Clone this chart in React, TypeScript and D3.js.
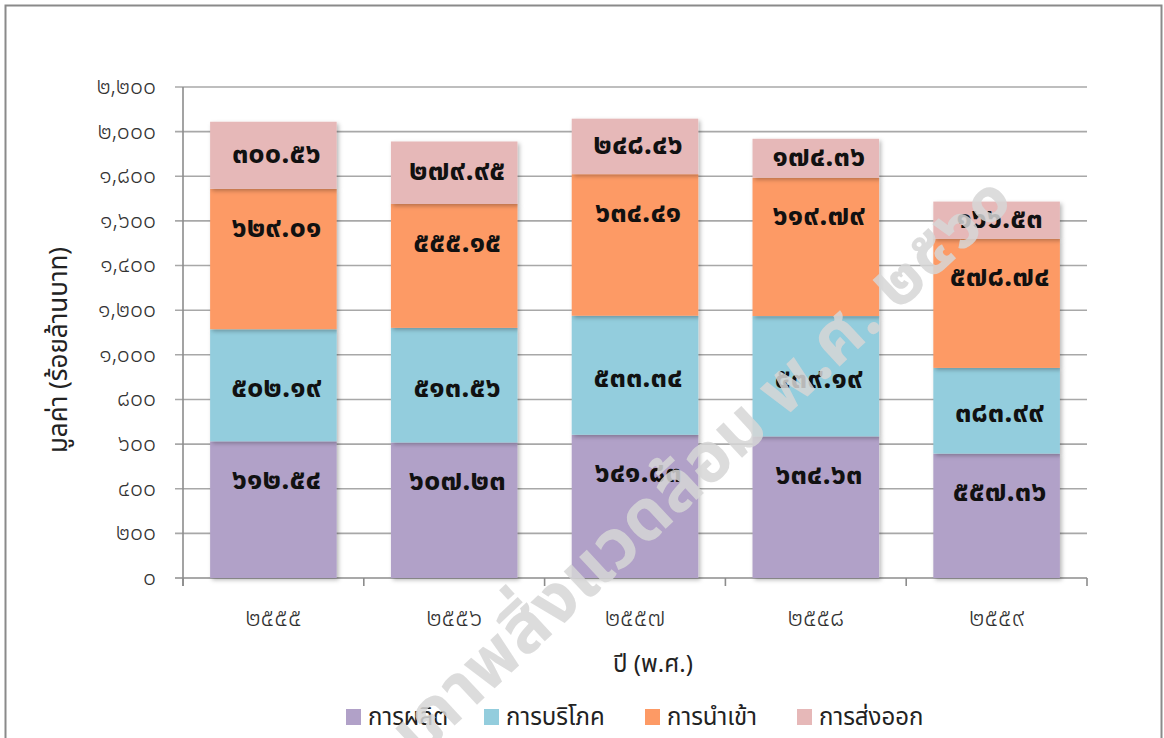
import React from "react";
import * as d3 from "d3";

// ปี พ.ศ.
const years = ["๒๕๕๕", "๒๕๕๖", "๒๕๕๗", "๒๕๕๘", "๒๕๕๙"];

// มูลค่า (ร้อยล้านบาท)
const production = [612.54, 607.23, 641.83, 634.63, 557.36];
const consumption = [502.19, 513.56, 533.34, 539.19, 383.99];
const imports = [629.01, 555.15, 634.41, 619.79, 578.74];
const exports = [300.56, 279.95, 248.46, 174.36, 166.53];

const seriesNames = ["การผลิต", "การบริโภค", "การนำเข้า", "การส่งออก"];
const seriesColors = ["#b1a1c8", "#93cddd", "#fd9a65", "#e6b8b8"];
const yTicks = [0, 200, 400, 600, 800, 1000, 1200, 1400, 1600, 1800, 2000, 2200];

const W = 1164;
const H = 738;
const M = { left: 183, right: 1087, top: 87, bottom: 578 };

const THAI_DIGITS = "๐๑๒๓๔๕๖๗๘๙";
const toThai = (s: string) => s.replace(/[0-9]/g, (c) => THAI_DIGITS[+c]);

const FONT = "'Noto Sans Thai', 'Noto Sans Thai Looped', 'Noto Sans', sans-serif";

export default function App() {
  const seriesValues = [production, consumption, imports, exports];
  const rows = years.map((y, i) => {
    const r: Record<string, number | string> = { year: y };
    seriesNames.forEach((n, k) => (r[n] = seriesValues[k][i]));
    return r;
  });
  const stacked = d3.stack<Record<string, number | string>>().keys(seriesNames)(rows as any);

  const x = d3.scaleBand().domain(years).range([M.left, M.right]).paddingInner(0.3).paddingOuter(0.15);
  const y = d3.scaleLinear().domain([0, 2200]).range([M.bottom, M.top]);
  const step = (M.right - M.left) / years.length;

  // label placement per series: centred, or pinned near the segment top
  const labelNearTop = [true, false, true, false];

  const fmtTick = d3.format(",");

  return (
    <div style={{ position: "fixed", left: 0, top: 0, width: W, height: H, background: "#fff" }}>
      <svg width={W} height={H} style={{ display: "block" }}>
        <defs>
          <filter id="barShadow" x="-10%" y="-10%" width="130%" height="130%">
            <feDropShadow dx="2" dy="2" stdDeviation="2" floodColor="#000" floodOpacity="0.28" />
          </filter>
        </defs>
        {/* chart frame */}
        <rect x={5.5} y={5.5} width={1156} height={760} fill="#fff" stroke="#8a8a8a" strokeWidth={2} />

        {/* gridlines and y ticks */}
        {yTicks.map((t) => (
          <g key={t}>
            <line x1={M.left - 8} x2={M.right} y1={y(t)} y2={y(t)} stroke={t === 0 ? "#8c8c8c" : "#a8a8a8"} strokeWidth={1.6} />
            <text x={156} y={y(t)} dy="0.3em" textAnchor="end" fontFamily={FONT} fontWeight={300} fontSize={23} fill="#333">
              {toThai(fmtTick(t))}
            </text>
          </g>
        ))}
        {/* y axis line */}
        <line x1={M.left} x2={M.left} y1={M.top} y2={M.bottom + 8} stroke="#8c8c8c" strokeWidth={1.6} />
        {/* x category ticks */}
        {d3.range(years.length + 1).map((i) => (
          <line key={i} x1={M.left + i * step} x2={M.left + i * step} y1={M.bottom} y2={M.bottom + 8} stroke="#8c8c8c" strokeWidth={1.6} />
        ))}

        {/* stacked bars */}
        {stacked.map((s, k) => (
          <g key={s.key} filter="url(#barShadow)">
            {s.map((d, i) => (
              <rect
                key={i}
                x={x(years[i])!}
                width={x.bandwidth()}
                y={y(d[1])}
                height={y(d[0]) - y(d[1])}
                fill={seriesColors[k]}
              />
            ))}
          </g>
        ))}

        {/* value labels */}
        {stacked.map((s, k) =>
          s.map((d, i) => {
            const top = y(d[1]);
            const bottom = y(d[0]);
            const cy = labelNearTop[k] ? top + 39 : (top + bottom) / 2 + (k === 3 ? -1 : 3);
            return (
              <text
                key={`${k}-${i}`}
                x={x(years[i])! + x.bandwidth() / 2 + 3}
                y={cy}
                dy="0.3em"
                textAnchor="middle"
                fontFamily={FONT}
                fontWeight="bold"
                fontSize={29}
                fill="#111"
              >
                {toThai((d[1] - d[0]).toFixed(2))}
              </text>
            );
          })
        )}

        {/* x tick labels */}
        {years.map((yr) => (
          <text key={yr} x={x(yr)! + x.bandwidth() / 2} y={618} dy="0.3em" textAnchor="middle" fontFamily={FONT} fontWeight={300} fontSize={25} fill="#333">
            {yr}
          </text>
        ))}

        {/* axis titles */}
        <text x={653} y={664} dy="0.35em" textAnchor="middle" fontFamily={FONT} fontSize={24} fill="#222">
          ปี (พ.ศ.)
        </text>
        <text transform="translate(58,350) rotate(-90)" dy="0.35em" textAnchor="middle" fontFamily={FONT} fontSize={26} fill="#222">
          มูลค่า (ร้อยล้านบาท)
        </text>

        {/* legend */}
        {[346, 484, 645, 797].map((lx, k) => (
          <g key={k} transform={`translate(${lx},709)`}>
            <rect x={0} y={0} width={15} height={16} fill={seriesColors[k]} />
            <text x={22} y={8} dy="0.35em" fontFamily={FONT} fontSize={24} fill="#222">
              {seriesNames[k]}
            </text>
          </g>
        ))}

        {/* watermark, laid over everything */}
        <text
          transform="translate(1015,203) rotate(-43)"
          textAnchor="end"
          fontFamily={FONT}
          fontSize={70}
          fontWeight="bold"
          fill="#d6d6d6"
          fillOpacity={0.85}
        >
          สถานการณ์คุณภาพสิ่งแวดล้อม พ.ศ. ๒๕๖๐
        </text>
      </svg>
    </div>
  );
}
